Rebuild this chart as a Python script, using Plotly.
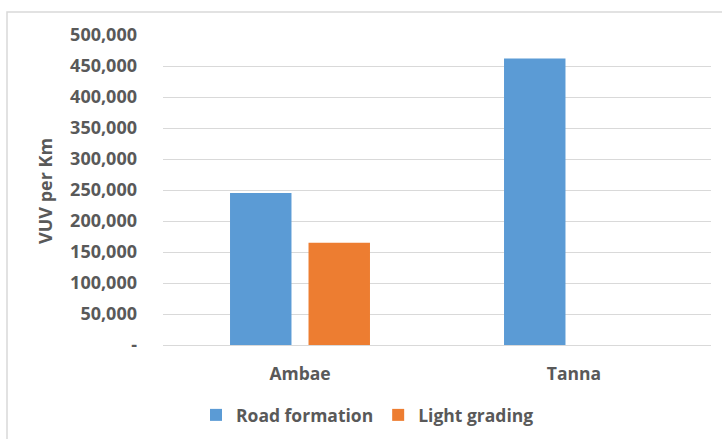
import plotly.graph_objects as go

# Unit cost of road works by island (VUV per km)
islands = ["Ambae", "Tanna"]
road_formation = [245000, 462000]
light_grading = [165000, None]

y_ticks = [0, 50000, 100000, 150000, 200000, 250000, 300000, 350000, 400000, 450000, 500000]
y_tick_text = ["-", "50,000", "100,000", "150,000", "200,000", "250,000",
               "300,000", "350,000", "400,000", "450,000", "500,000"]

BLUE = "#5B9BD5"
ORANGE = "#ED7D31"
TEXT = "#595959"
GRID = "#D9D9D9"
FONT = "Open Sans"

W, H = 722, 439
L, R, T, B = 163, 11, 35, 94
pw = W - L - R
ph = H - T - B

fig = go.Figure()
fig.add_trace(go.Bar(name="Road formation", x=islands, y=road_formation,
                     marker=dict(color=BLUE, line=dict(width=0))))
fig.add_trace(go.Bar(name="Light grading", x=islands, y=light_grading,
                     marker=dict(color=ORANGE, line=dict(width=0))))


def px_x(p):
    return (p - L) / pw


def px_y(p):
    return (H - B - p) / ph


bold = lambda size: dict(family=FONT, size=size, color=TEXT, weight="bold")

fig.update_layout(
    width=W, height=H,
    margin=dict(l=L, r=R, t=T, b=B, pad=0, autoexpand=False),
    paper_bgcolor="white", plot_bgcolor="white",
    barmode="group", bargap=0.427, bargroupgap=0.217,
    font=dict(family=FONT, color=TEXT, size=17),
    showlegend=True,
    legend=dict(orientation="h", x=px_x(196), xanchor="left",
                y=px_y(415), yanchor="middle",
                font=bold(17.5), itemwidth=30, traceorder="normal"),
    xaxis=dict(showgrid=False, showline=False, zeroline=False, ticks="",
               tickfont=bold(17.5), ticklabelstandoff=16, fixedrange=True),
    yaxis=dict(range=[0, 500000], tickvals=y_ticks, ticktext=y_tick_text,
               showgrid=True, gridcolor=GRID, gridwidth=1,
               zeroline=True, zerolinecolor=GRID, zerolinewidth=1,
               showline=False, ticks="",
               tickfont=bold(18), ticklabelstandoff=25, fixedrange=True),
    annotations=[dict(text="VUV per Km", textangle=-90,
                      x=px_x(45), y=px_y(191), xref="paper", yref="paper",
                      xanchor="center", yanchor="middle", showarrow=False,
                      font=bold(18))],
    shapes=[dict(type="rect", xref="paper", yref="paper",
                 x0=px_x(7), x1=px_x(760), y0=px_y(480), y1=px_y(12),
                 line=dict(color=GRID, width=1.5), fillcolor="rgba(0,0,0,0)",
                 layer="below")],
)

fig.write_html("out.html")
